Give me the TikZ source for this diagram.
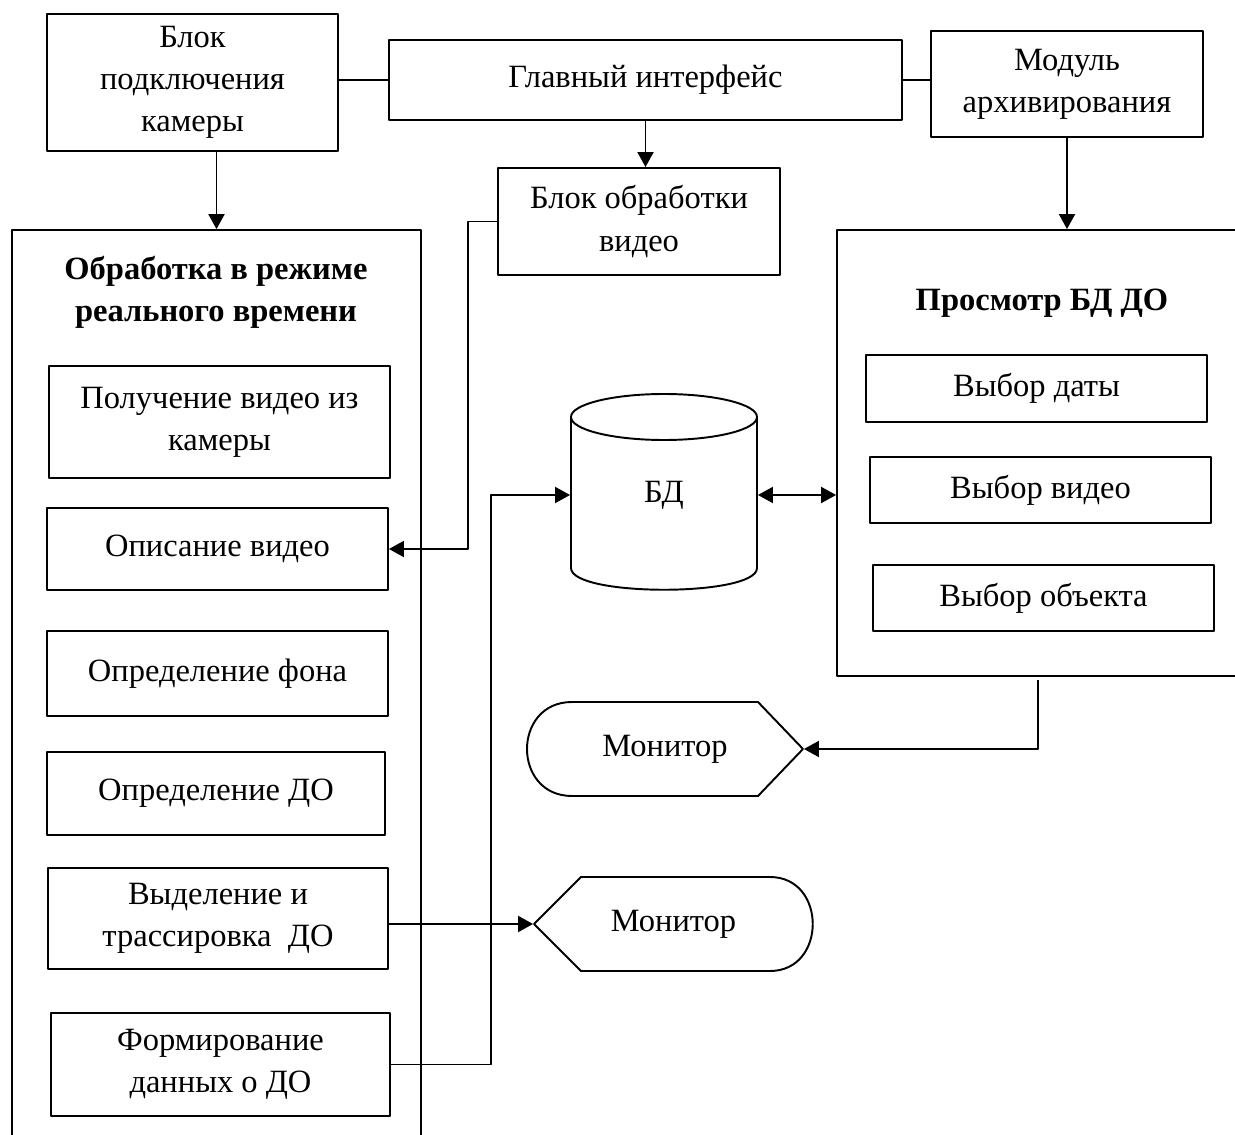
\documentclass[tikz,border=0pt]{standalone}
\usepackage{fontspec}
\setmainfont{Liberation Serif}
\usetikzlibrary{arrows.meta}

\begin{document}
\begin{tikzpicture}[x=0.02cm,y=-0.02cm,line join=round,line width=1.1pt,
	>={Triangle[length=3mm,width=3.2mm]},
	font=\fontsize{18.5pt}{24pt}\selectfont,
	box/.style={draw,rectangle,align=center,inner sep=2pt},
	title/.style={align=center,font=\fontsize{18.5pt}{24pt}\selectfont\bfseries}]
	\useasboundingbox (0,0) rectangle (1235,1135);
	\clip (0,0) rectangle (1235,1135);
	% === Верхний ряд ===
	\node[box,minimum width=5.82cm,minimum height=2.74cm] (cam) at (192.5,82.5) {Блок\\подключения\\камеры};
	\node[box,minimum width=10.26cm,minimum height=1.6cm] (main) at (645.5,80) {Главный интерфейс};
	\node[box,minimum width=5.44cm,minimum height=2.12cm] (arch) at (1067,84) {Модуль\\архивирования};
	\node[box,minimum width=5.64cm,minimum height=2.14cm] (vproc) at (639,221.5) {Блок обработки\\видео};
	% === Обработка в режиме реального времени ===
	\node[box,minimum width=8.18cm,minimum height=18.8cm] (rt) at (216.5,700) {};
	\node[title] (rttitle) at (216,292) {Обработка в режиме\\реального времени};
	\node[box,minimum width=6.82cm,minimum height=2.24cm] (get) at (219.5,422) {Получение видео из\\камеры};
	\node[box,minimum width=6.82cm,minimum height=1.64cm] (desc) at (217.5,549) {Описание видео};
	\node[box,minimum width=6.82cm,minimum height=1.7cm] (bg) at (217.5,673.5) {Определение фона};
	\node[box,minimum width=6.76cm,minimum height=1.66cm] (det) at (216,793.5) {Определение ДО};
	\node[box,minimum width=6.8cm,minimum height=2.02cm] (trk) at (218,918.5) {Выделение и\\трассировка\ \ ДО};
	\node[box,minimum width=6.78cm,minimum height=2.06cm] (form) at (220.5,1064.5) {Формирование\\данных о ДО};
	% === Просмотр БД ДО ===
	\node[box,minimum width=9.26cm,minimum height=8.92cm] (rv) at (1068.5,453) {};
	\node[title] (rvtitle) at (1042,303) {Просмотр БД ДО};
	\node[box,minimum width=6.82cm,minimum height=1.34cm] (date) at (1036.5,388.5) {Выбор даты};
	\node[box,minimum width=6.82cm,minimum height=1.32cm] (video) at (1040.5,490) {Выбор видео};
	\node[box,minimum width=6.82cm,minimum height=1.32cm] (obj) at (1043.5,598) {Выбор объекта};
	% === БД ===
	\node[minimum width=3.72cm,minimum height=3.8cm,inner sep=0] (db) at (664,495) {БД};
	\draw (664,417) ellipse [x radius=93,y radius=23];
	\draw (571,417) -- (571,568) .. controls (571,597) and (757,597) .. (757,568) -- (757,417);
	% === Мониторы ===
	\node[minimum width=5.52cm,minimum height=1.88cm,inner sep=0] (mon1) at (665,749) {Монитор};
	\draw (572,702) -- (758,702) -- (803,749) -- (758,796) -- (572,796) .. controls (512,796) and (512,702) .. (572,702);
	\node[minimum width=5.58cm,minimum height=1.88cm,inner sep=0] (mon2) at (673.5,924) {Монитор};
	\draw (534,924) -- (581,877) -- (770,877) .. controls (827,877) and (827,971) .. (770,971) -- (581,971) -- cycle;
	% === Связи ===
	\draw (cam.east |- main.west) -- (main.west);
	\draw (main.east) -- (main.east -| arch.west);
	\draw[->] (rt.north |- cam.south) -- (rt.north);
	\draw[->] (main.south) -- (main.south |- vproc.north);
	\draw[->] (arch.south) -- (arch.south |- rv.north);
	\draw[->] (vproc.west) -- ++(-29,0) |- (desc.east);
	\draw[->] (trk.east |- mon2.west) -- (mon2.west);
	\draw[->] (form.east) -- ++(100,0) |- (db.west);
	\draw[<->] (db.east) -- (db.east -| rv.west);
	\coordinate (rvout) at (1038,680);
	\draw[->] (rvout) |- (mon1.east);
\end{tikzpicture}
\end{document}
